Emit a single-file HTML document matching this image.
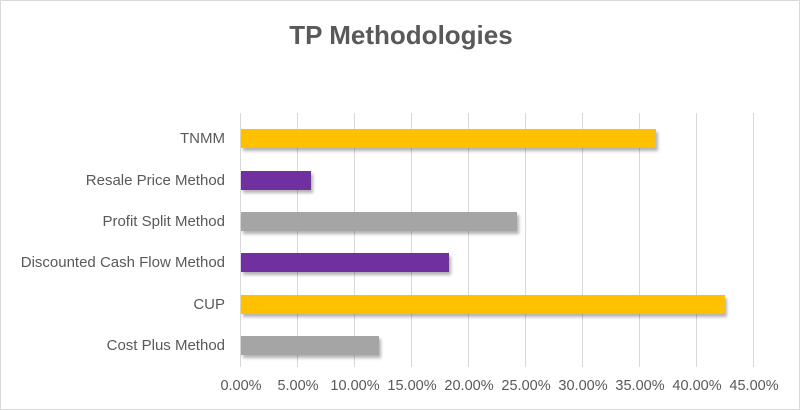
<!DOCTYPE html>
<html><head><style>
body{margin:0;background:#fff}
.c{position:relative;width:798px;height:408px;border:1px solid #d9d9d9;font-family:"Liberation Sans",sans-serif;color:#595959;overflow:hidden}
.t{position:absolute;left:0;width:800px;top:19px;text-align:center;font-size:26px;font-weight:bold}
.g{position:absolute;top:112px;height:254px;width:1px;background:#d9d9d9}
.b{position:absolute;left:240px;height:19px;box-shadow:2px 3px 3px rgba(0,0,0,.3)}
.l{position:absolute;right:574px;font-size:15px;white-space:nowrap;line-height:19px}
.x{position:absolute;top:377px;font-size:14.5px;width:70px;margin-left:-35px;text-align:center}
</style></head><body><div class="c">
<div class="t">TP Methodologies</div>
<div class="g" style="left:239px"></div><div class="g" style="left:296px"></div><div class="g" style="left:353px"></div><div class="g" style="left:410px"></div><div class="g" style="left:467px"></div><div class="g" style="left:524px"></div><div class="g" style="left:581px"></div><div class="g" style="left:638px"></div><div class="g" style="left:695px"></div><div class="g" style="left:752px"></div>
<div class="b" style="top:128px;width:415px;background:#ffc000"></div>
<div class="b" style="top:170px;width:70px;background:#7030a0"></div>
<div class="b" style="top:211px;width:276px;background:#a5a5a5"></div>
<div class="b" style="top:252px;width:208px;background:#7030a0"></div>
<div class="b" style="top:294px;width:484px;background:#ffc000"></div>
<div class="b" style="top:335px;width:138px;background:#a5a5a5"></div>
<div class="l" style="top:128px">TNMM</div>
<div class="l" style="top:170px">Resale Price Method</div>
<div class="l" style="top:211px">Profit Split Method</div>
<div class="l" style="top:252px">Discounted Cash Flow Method</div>
<div class="l" style="top:294px">CUP</div>
<div class="l" style="top:335px">Cost Plus Method</div>
<div class="x" style="left:240px">0.00%</div><div class="x" style="left:297px">5.00%</div><div class="x" style="left:354px">10.00%</div><div class="x" style="left:411px">15.00%</div><div class="x" style="left:468px">20.00%</div><div class="x" style="left:525px">25.00%</div><div class="x" style="left:582px">30.00%</div><div class="x" style="left:639px">35.00%</div><div class="x" style="left:696px">40.00%</div><div class="x" style="left:753px">45.00%</div>
</div></body></html>
